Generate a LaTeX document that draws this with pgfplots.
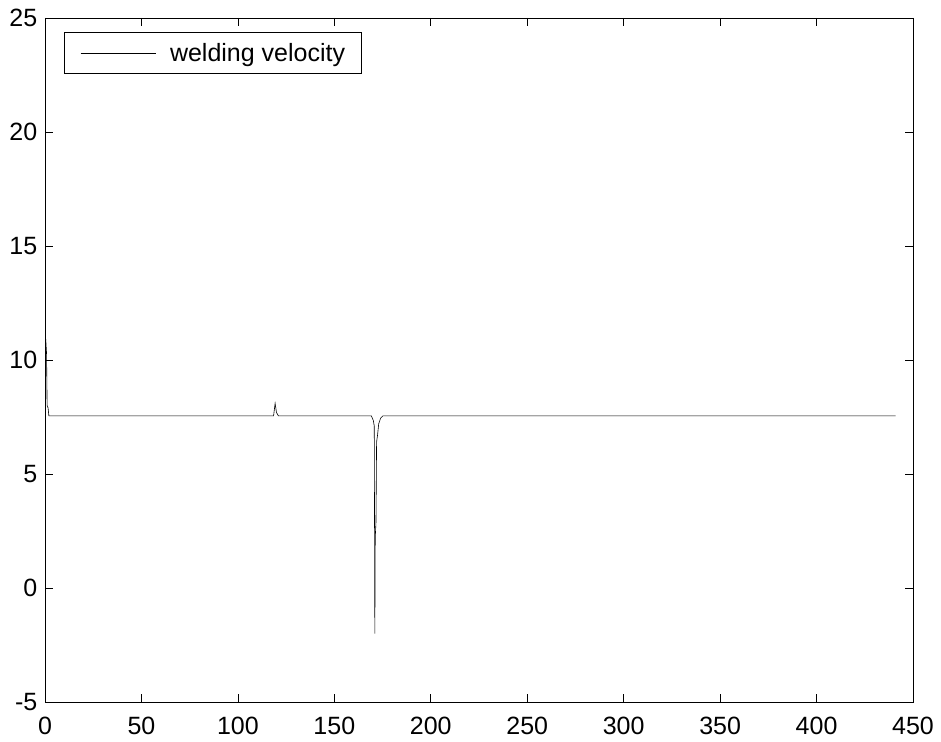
\documentclass[border=0pt]{standalone}
\usepackage{fontspec}
\setmainfont{Liberation Sans}
\usepackage{pgfplots}
\pgfplotsset{compat=1.18}
\begin{document}
\begin{tikzpicture}[x=1pt,y=1pt]
\begin{axis}[
  name=ax,
  at={(0,0)},anchor=south west,
  scale only axis,
  width=868pt,height=684pt,
  xmin=0,xmax=450,ymin=-5,ymax=25,
  xtick={0,50,...,450},
  ytick={-5,0,...,25},
  tick align=inside,
  major tick length=8pt,
  xtick pos=both,ytick pos=both,
  axis line style={line width=0.8pt},
  every tick/.style={black,line width=0.6pt},
  /pgf/number format/assume math mode=true,
  tick label style={font=\fontsize{25}{30}\selectfont},
  xticklabel style={inner sep=0pt,anchor=north,yshift=-15pt},
  yticklabel style={inner sep=0pt,anchor=east,xshift=-7.5pt},
  legend style={at={(0.0219,0.9795)},anchor=north west,
    font=\fontsize{25}{30}\selectfont,
    draw=black,line width=0.8pt,inner xsep=16pt,inner ysep=10.8pt,
    column sep=14pt,
    legend cell align=left,
    nodes={inner sep=0pt}},
  legend image code/.code={\draw[#1] (0pt,0pt) -- (75pt,0pt);},
]
\addplot[black,line width=0.6pt] coordinates {
(0,11.1) (0.4,10.9) (0.8,10.3) (1.1,8.0) (1.6,7.9) (2,7.55)
(118.5,7.55) (119.3,8.1) (120,7.7) (121,7.55)
(169.2,7.55) (170.2,7.35) (170.7,7.1) (171,-2.0) (171.2,2.2) (171.6,2.9)
(171.9,6.4) (172.4,6.7) (173,7.2) (174,7.45) (175.2,7.55)
(441,7.55)
};
\addlegendentry{welding velocity}
\end{axis}
\pgfresetboundingbox
\useasboundingbox (-45,-39) rectangle (896,702);
\end{tikzpicture}
\end{document}
